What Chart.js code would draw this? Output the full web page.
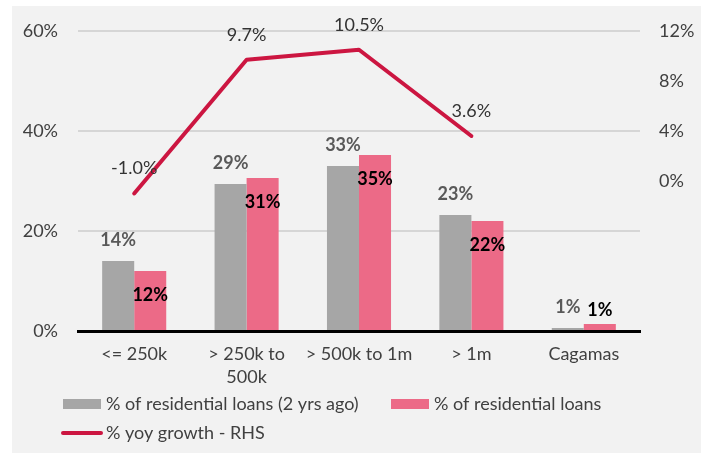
<!DOCTYPE html>
<html>
<head>
<meta charset="utf-8">
<script src="https://cdn.jsdelivr.net/npm/chart.js@4.4.0/dist/chart.umd.min.js"></script>
<style>
  html, body { margin: 0; padding: 0; background: #ffffff; }
  #wrap { width: 712px; height: 455px; position: relative; }
</style>
</head>
<body>
<div id="wrap"><canvas id="c" width="712" height="455"></canvas></div>
<script>
// Loan size buckets
const categories = [['<= 250k'], ['> 250k to', '500k'], ['> 500k to 1m'], ['> 1m'], ['Cagamas']];
// Share of residential loans, % (left axis)
const share2YrsAgo = [14, 29.4, 33, 23.2, 0.6];
const shareNow = [12, 30.6, 35.2, 22, 1.4];
// Year-on-year growth, % (right axis)
const yoyGrowth = [-1.0, 9.7, 10.5, 3.6, null];
// Axis ticks
const leftTicks = [0, 20, 40, 60];
const rightTicks = [0, 4, 8, 12];

const FONT = 'Lato, "Noto Sans", sans-serif';
const GREY = '#a6a6a6';
const PINK = '#ec6a87';
const RED = '#cc1641';

const panelBg = {
  id: 'panelBg',
  beforeDraw(chart) {
    const ctx = chart.ctx;
    ctx.save();
    ctx.fillStyle = '#ffffff';
    ctx.fillRect(0, 0, chart.width, chart.height);
    ctx.fillStyle = '#f2f2f2';
    ctx.fillRect(12, 6, 689, 447);
    ctx.restore();
  }
};

const valueLabels = {
  id: 'valueLabels',
  afterDatasetsDraw(chart) {
    const ctx = chart.ctx;
    ctx.save();
    ctx.textAlign = 'center';
    ctx.textBaseline = 'middle';
    chart.data.datasets.forEach((ds, di) => {
      const meta = chart.getDatasetMeta(di);
      meta.data.forEach((el, i) => {
        const v = ds.data[i];
        if (v === null || v === undefined) return;
        if (ds.type === 'line') {
          ctx.font = '18px ' + FONT;
          ctx.fillStyle = '#333333';
          ctx.fillText(v.toFixed(1) + '%', el.x, el.y - 25);
        } else if (di === 0) {
          ctx.font = 'bold 18px ' + FONT;
          ctx.fillStyle = '#595959';
          ctx.fillText(Math.round(v) + '%', el.x, el.y - 21);
        } else {
          ctx.font = 'bold 18px ' + FONT;
          ctx.fillStyle = '#000000';
          const h = el.base - el.y;
          const y = h > 30 ? el.y + 24 : el.y - 14;
          ctx.fillText(Math.round(v) + '%', el.x, y);
        }
      });
    });
    ctx.restore();
  }
};

const customLegend = {
  id: 'customLegend',
  afterDraw(chart) {
    const ctx = chart.ctx;
    const ds = chart.data.datasets;
    const items = [
      { ds: ds[0], x: 63, y: 404 },
      { ds: ds[1], x: 391, y: 404 },
      { ds: ds[2], x: 61, y: 433 }
    ];
    ctx.save();
    ctx.font = '18px ' + FONT;
    ctx.textBaseline = 'middle';
    ctx.textAlign = 'left';
    items.forEach(it => {
      if (it.ds.type === 'line') {
        ctx.strokeStyle = it.ds.borderColor;
        ctx.lineWidth = 4;
        ctx.lineCap = 'round';
        ctx.beginPath();
        ctx.moveTo(it.x + 2, it.y);
        ctx.lineTo(it.x + 40, it.y);
        ctx.stroke();
        ctx.fillStyle = '#404040';
        ctx.fillText(it.ds.label, it.x + 45, it.y);
      } else {
        ctx.fillStyle = it.ds.backgroundColor;
        ctx.fillRect(it.x, it.y - 5, 38, 10);
        ctx.fillStyle = '#404040';
        ctx.fillText(it.ds.label, it.x + 43, it.y);
      }
    });
    ctx.restore();
  }
};

new Chart(document.getElementById('c'), {
  type: 'bar',
  data: {
    labels: categories,
    datasets: [
      {
        label: '% of residential loans (2 yrs ago)',
        data: share2YrsAgo,
        backgroundColor: GREY,
        yAxisID: 'y',
        categoryPercentage: 0.57,
        barPercentage: 1.0,
        order: 2
      },
      {
        label: '% of residential loans',
        data: shareNow,
        backgroundColor: PINK,
        yAxisID: 'y',
        categoryPercentage: 0.57,
        barPercentage: 1.0,
        order: 2
      },
      {
        type: 'line',
        label: '% yoy growth - RHS',
        data: yoyGrowth,
        borderColor: RED,
        backgroundColor: RED,
        borderWidth: 4,
        borderCapStyle: 'round',
        borderJoinStyle: 'round',
        pointRadius: 0,
        pointHoverRadius: 0,
        tension: 0,
        yAxisID: 'y2',
        order: 1
      }
    ]
  },
  options: {
    responsive: false,
    animation: false,
    events: [],
    layout: { padding: { top: 31, left: 0, right: 0, bottom: 0 } },
    plugins: {
      legend: { display: false },
      tooltip: { enabled: false }
    },
    scales: {
      x: {
        grid: { display: false, drawTicks: false },
        border: { display: true, color: '#000000', width: 3 },
        ticks: {
          color: '#404040',
          font: { family: FONT, size: 18, lineHeight: 1.25 },
          padding: 12,
          maxRotation: 0,
          autoSkip: false
        },
        afterFit(s) { s.height = 124; }
      },
      y: {
        position: 'left',
        min: 0,
        max: 60,
        afterBuildTicks(s) { s.ticks = leftTicks.map(v => ({ value: v })); },
        grid: {
          drawTicks: false,
          lineWidth: 2,
          color: c => (c.tick && c.tick.value === 0) ? 'rgba(0,0,0,0)' : '#d6d6d6'
        },
        border: { display: false },
        ticks: {
          color: '#404040',
          font: { family: FONT, size: 18 },
          padding: 20,
          callback: v => v + '%'
        },
        afterFit(s) { s.width = 78; }
      },
      y2: {
        position: 'right',
        min: -12,
        max: 12,
        afterBuildTicks(s) { s.ticks = rightTicks.map(v => ({ value: v })); },
        grid: { display: false, drawTicks: false },
        border: { display: false },
        ticks: {
          color: '#404040',
          font: { family: FONT, size: 18 },
          padding: 19,
          callback: v => v + '%'
        },
        afterFit(s) { s.width = 72; }
      }
    }
  },
  plugins: [panelBg, valueLabels, customLegend]
});
</script>
</body>
</html>
